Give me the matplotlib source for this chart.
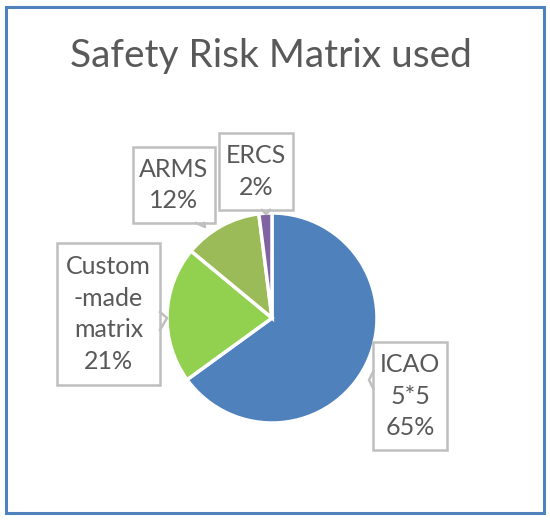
#!/usr/bin/env python3
"""Pie chart: Safety Risk Matrix used."""

import matplotlib

matplotlib.use("Agg")
import matplotlib.pyplot as plt
from matplotlib.patches import Rectangle

plt.rcParams.update(
    {
        "font.family": ["Lato", "DejaVu Sans"],
        "figure.facecolor": "white",
    }
)

# Data
categories = ["ICAO\n5*5", "Custom\n-made\nmatrix", "ARMS", "ERCS"]
shares = [65, 21, 12, 2]
colors = ["#4F81BD", "#92D050", "#9BBB59", "#8064A2"]

W, H = 550, 522
TXT = "#595959"
EDGE = "#BFBFBF"


def py(y):
    # image pixel row -> data y (origin at bottom)
    return H - y


fig = plt.figure(figsize=(W / 100, H / 100), dpi=100)
ax = fig.add_axes([0, 0, 1, 1])

cx, cy, r = 272, py(318), 105
ax.pie(
    shares,
    colors=colors,
    startangle=90,
    counterclock=False,
    center=(cx, cy),
    radius=r,
    wedgeprops={"edgecolor": "white", "linewidth": 2.5},
    frame=True,
)
ax.set_xlim(0, W)
ax.set_ylim(0, H)
ax.set_aspect("equal")
ax.axis("off")

# outer chart frame
ax.add_patch(
    Rectangle((6, py(513)), 538, 506, fill=False, edgecolor="#4F81BD", linewidth=2.2)
)

ax.text(271, py(56), "Safety Risk Matrix used", ha="center", va="center",
        fontsize=28, color=TXT)

# label boxes: (x0, y0 top, x1, y1 bottom), pointer line
boxes = [
    ((373, 342, 447, 450), [(373, 372), (369, 380), (373, 388)]),
    ((57, 243, 160, 385), [(160, 330), (167, 318), (160, 312)]),
    ((133, 147, 215, 223), [(196, 223), (205, 227), (204, 223)]),
    ((219, 133, 293, 210), [(262, 210), (266, 214), (270, 210)]),
]
for (lab, val, ((x0, y0, x1, y1), ptr)) in zip(categories, shares, boxes):
    ax.add_patch(
        Rectangle((x0, py(y1)), x1 - x0, y1 - y0, facecolor="white",
                  edgecolor=EDGE, linewidth=1.8, zorder=4)
    )
    px = [p[0] for p in ptr]
    pyy = [py(p[1]) for p in ptr]
    ax.plot(px, pyy, color=EDGE, linewidth=1.8, zorder=5)
    ax.text((x0 + x1) / 2, py((y0 + y1) / 2), f"{lab}\n{val}%", ha="center",
            va="center", fontsize=18, color=TXT, linespacing=1.45, zorder=6)

fig.savefig("out.png", dpi=100, facecolor="white")
plt.close(fig)
